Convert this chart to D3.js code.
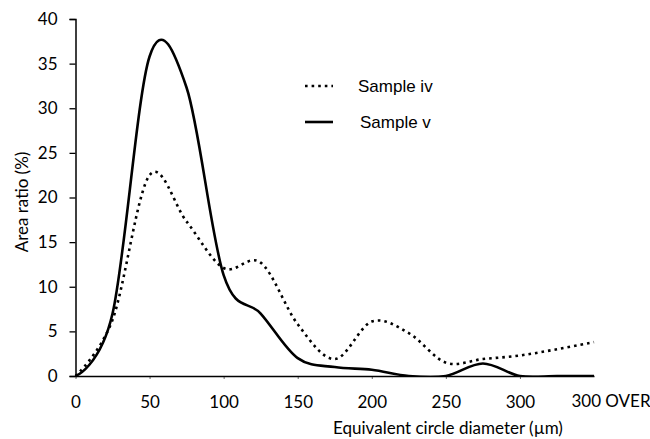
<!DOCTYPE html>
<html>
<head>
<meta charset="utf-8">
<script src="https://cdn.jsdelivr.net/npm/d3@7"></script>
<style>
  body { margin: 0; background: #fff; }
  text { fill: #000; }
</style>
</head>
<body>
<div id="chartDiv"></div>
<script>
// data (diameter classes, 350 = "300 OVER" class)
var diameters = [0, 25, 50, 75, 100, 125, 150, 175, 200, 225, 250, 275, 300, 325, 350];
var sampleIv = [0, 6.3, 22.5, 17.3, 12.1, 12.7, 5.8, 1.9, 6.1, 4.8, 1.5, 1.9, 2.3, 3.0, 3.8];
var sampleV  = [0, 7.0, 35.8, 32.3, 11.3, 7.0, 2.0, 1.0, 0.7, 0, 0, 1.4, 0, 0, 0];
var xTicks = [0, 50, 100, 150, 200, 250, 300];
var overLabel = "300 OVER";
var yTicks = [0, 5, 10, 15, 20, 25, 30, 35, 40];

var width = 650, height = 439;

var svg = d3.select("#chartDiv")
    .append("svg")
    .attr("width", width)
    .attr("height", height);

var x = d3.scaleLinear().domain([0, 350]).range([75.5, 594]);
var y = d3.scaleLinear().domain([0, 40]).range([376, 19]);

var font = "Lato, 'Open Sans', sans-serif";
var fs = "17px";

// y axis
var yAxis = svg.append("g")
    .attr("transform", "translate(" + x(0) + ",0)")
    .call(d3.axisLeft(y).tickValues(yTicks).tickSize(6).tickPadding(12));
yAxis.select(".domain").attr("stroke", "#000").attr("stroke-width", 1.5);
yAxis.selectAll(".tick line").attr("stroke", "#000").attr("stroke-width", 1.3);
yAxis.selectAll("text").style("font-family", font).style("font-size", fs);

// x axis
var xAxis = svg.append("g")
    .attr("transform", "translate(0," + y(0) + ")")
    .call(d3.axisBottom(x).tickValues(xTicks).tickSize(3).tickPadding(17).tickSizeOuter(0));
xAxis.select(".domain").attr("stroke", "#000").attr("stroke-width", 1.5);
xAxis.selectAll(".tick line").attr("stroke", "#000").attr("stroke-width", 0.6);
xAxis.selectAll("text").style("font-family", font).style("font-size", fs);

// last class label
svg.append("text")
    .attr("x", x(350) + 17)
    .attr("y", 407)
    .attr("text-anchor", "middle")
    .style("font-family", font)
    .style("font-size", fs)
    .text(overLabel);

// axis titles
svg.append("text")
    .attr("x", 448)
    .attr("y", 434)
    .attr("text-anchor", "middle")
    .style("font-family", font)
    .style("font-size", fs)
    .text("Equivalent circle diameter (\u00b5m)");

svg.append("text")
    .attr("transform", "translate(28,202) rotate(-90)")
    .attr("text-anchor", "middle")
    .style("font-family", font)
    .style("font-size", fs)
    .text("Area ratio (%)");

// lines
var line = d3.line()
    .x(function (d, i) { return x(diameters[i]); })
    .y(function (d) { return y(d); })
    .curve(d3.curveCardinal.tension(0));

svg.append("clipPath").attr("id", "plotClip")
    .append("rect").attr("x", 70).attr("y", 0).attr("width", 560).attr("height", 376.5);

svg.append("path")
    .datum(sampleIv)
    .attr("clip-path", "url(#plotClip)")
    .attr("d", line)
    .attr("fill", "none")
    .attr("stroke", "#000")
    .attr("stroke-width", 2.6)
    .attr("stroke-dasharray", "2.6,4");

svg.append("path")
    .datum(sampleV)
    .attr("clip-path", "url(#plotClip)")
    .attr("d", line)
    .attr("fill", "none")
    .attr("stroke", "#000")
    .attr("stroke-width", 2.6)
    .attr("stroke-linejoin", "round");

// legend
var legend = svg.append("g");
legend.append("line")
    .attr("x1", 305).attr("x2", 333).attr("y1", 86).attr("y2", 86)
    .attr("stroke", "#000").attr("stroke-width", 2.6).attr("stroke-dasharray", "2.6,4");
legend.append("text")
    .attr("x", 358).attr("y", 92)
    .style("font-family", "'Liberation Sans', Arial, sans-serif")
    .style("font-size", "17px")
    .text("Sample iv");
legend.append("line")
    .attr("x1", 305).attr("x2", 333).attr("y1", 122).attr("y2", 122)
    .attr("stroke", "#000").attr("stroke-width", 2.6);
legend.append("text")
    .attr("x", 360).attr("y", 128)
    .style("font-family", "'Liberation Sans', Arial, sans-serif")
    .style("font-size", "17px")
    .text("Sample v");
</script>
</body>
</html>
